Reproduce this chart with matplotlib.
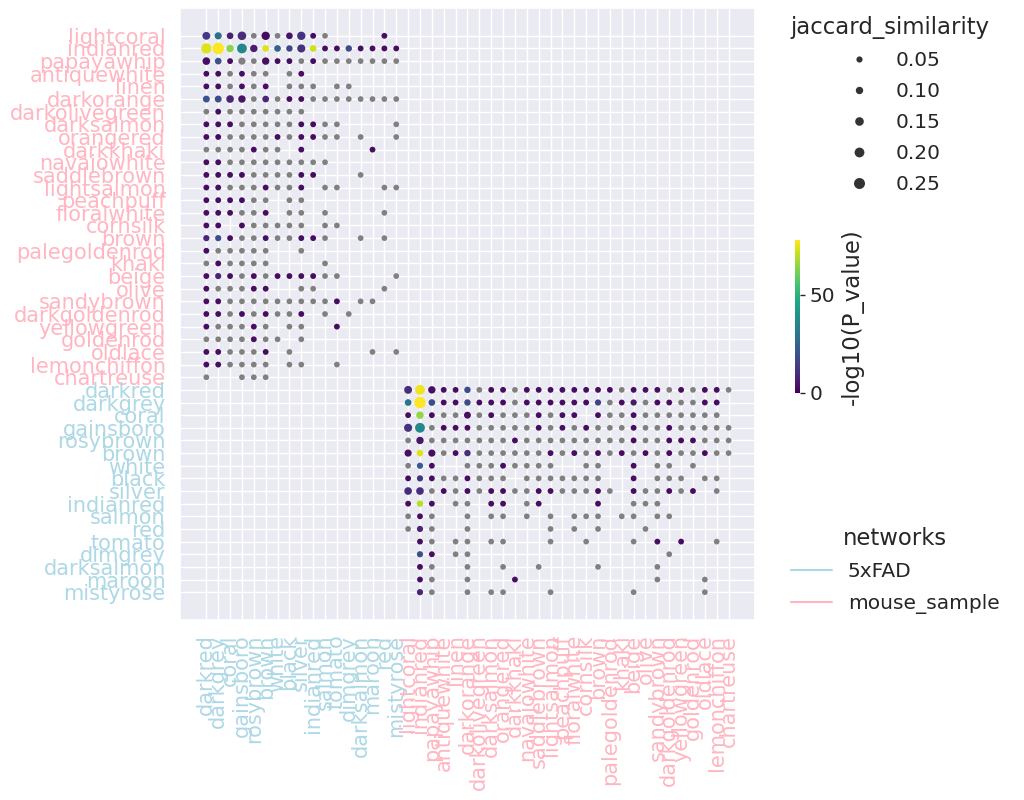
import numpy as np
import matplotlib.pyplot as plt
import seaborn as sns
from matplotlib.lines import Line2D

# modules of the two networks, in the order they show up on the axes
ms_modules = ["lightcoral", "indianred", "papayawhip", "antiquewhite", "linen",
              "darkorange", "darkolivegreen", "darksalmon", "orangered", "darkkhaki",
              "navajowhite", "saddlebrown", "lightsalmon", "peachpuff", "floralwhite",
              "cornsilk", "brown", "palegoldenrod", "khaki", "beige", "olive",
              "sandybrown", "darkgoldenrod", "yellowgreen", "goldenrod", "oldlace",
              "lemonchiffon", "chartreuse"]
fx_modules_x = ["darkred", "darkgrey", "coral", "gainsboro", "rosybrown", "brown",
                "white", "black", "silver", "indianred", "salmon", "tomato", "dimgrey",
                "darksalmon", "maroon", "red", "mistyrose"]
fx_modules_y = ["darkred", "darkgrey", "coral", "gainsboro", "rosybrown", "brown",
                "white", "black", "silver", "indianred", "salmon", "red", "tomato",
                "dimgrey", "darksalmon", "maroon", "mistyrose"]

# one char per cell: '.' no overlap, 'o' not significant, 'x' significant
ms_vs_fx = [  # rows ms_modules, cols fx_modules_x
    "xxxxoxoxxxo....x.",
    "xxxxxxxxxxxxxxxxx",
    "xxxooxxxoxooooooo",
    "xxoxoo.ox........",
    "xxoxox.ooo.oo....",
    "xxxxoxoxxoooooooo",
    "oxooooooo........",
    "xxxoooooxxoo....o",
    "xxooooxoxxoo.o..o",
    "ooooxoo.x.....x..",
    "xxooooooooo......",
    "xxxxooooxx...o...",
    "xxoooxoox.oo...oo",
    "xxxxoo.oo........",
    "xxxoox.oo.o....o.",
    "xx.xooooo.oo.....",
    "xxxooxooxxo..o.o.",
    "xooooo..o........",
    "oxoooo....o......",
    "xxxoxoxxxxoo....o",
    "xoooxx..oo.....o.",
    "xxooooooooox.oo..",
    "xxoxoxoox.o.o....",
    "xoooxo.oo..x.....",
    "ooooxoo.o........",
    "xxooox.o......o.o",
    "xxoooo.oo..o.....",
    "o..ooo...........",
]
fx_vs_ms = [  # rows fx_modules_y, cols ms_modules
    "xxxxxxoxxoxxxxxxxxoxxxoxoxxo",
    "xxxxxxxxxoxxxxxxxoxxoxxooxx.",
    "xxxooxoxoooxoxx.xooxooooooo.",
    "xxoxxxoooooxoxoxoooxooxooooo",
    "oxoooooooxoooooooooxooxxxooo",
    "xxxoxxooooooxoxoxoxoxoxooxoo",
    "oxx..oooxoooo..oo..x.oo.o...",
    "xxxooxooo.ooooooo..x.ooo.oo.",
    "xxoxoxoxxooxxoooxo.xooxox.o.",
    "xxx.oo.xx.ox....x..ooo......",
    "oxo..o.oo.o.o.ooo.oo.oo.....",
    "oxo..o......o.o.o...o.......",
    ".xo.oo.oo...o..o...o.x.x..o.",
    ".xx.oo................o.....",
    ".xo..o..o..o....o....o......",
    ".xo..o...x...........o...o..",
    ".xo..o.oo...o......o.....o..",
]

# pairs read one by one: (-log10 p, jaccard)
ms_vs_fx_strong = {
    ("lightcoral", "darkred"): (13, 0.12), ("lightcoral", "darkgrey"): (28, 0.09),
    ("lightcoral", "coral"): (7, 0.07), ("lightcoral", "gainsboro"): (10, 0.15),
    ("lightcoral", "brown"): (2, 0.14), ("lightcoral", "black"): (4, 0.07),
    ("lightcoral", "silver"): (11, 0.14),
    ("indianred", "darkred"): (74, 0.22), ("indianred", "darkgrey"): (78, 0.27),
    ("indianred", "coral"): (64, 0.10), ("indianred", "gainsboro"): (36, 0.20),
    ("indianred", "rosybrown"): (6, 0.10), ("indianred", "brown"): (74, 0.07),
    ("indianred", "white"): (25, 0.07), ("indianred", "black"): (16, 0.06),
    ("indianred", "silver"): (11, 0.13), ("indianred", "indianred"): (72, 0.07),
    ("indianred", "dimgrey"): (18, 0.06),
    ("papayawhip", "darkred"): (3, 0.11), ("papayawhip", "darkgrey"): (20, 0.07),
    ("papayawhip", "gainsboro"): (0.8, 0.09), ("papayawhip", "brown"): (3, 0.10),
    ("darkorange", "darkred"): (20, 0.08), ("darkorange", "darkgrey"): (18, 0.08),
    ("darkorange", "coral"): (8, 0.11), ("darkorange", "gainsboro"): (4, 0.10),
    ("darkorange", "brown"): (8, 0.07),
    ("brown", "darkred"): (8, 0.05), ("brown", "darkgrey"): (18, 0.05),
    ("beige", "darkgrey"): (8, 0.05),
}
fx_vs_ms_strong = {
    ("darkred", "lightcoral"): (10, 0.12), ("darkred", "indianred"): (76, 0.20),
    ("darkred", "papayawhip"): (3, 0.10), ("darkred", "darkorange"): (18, 0.06),
    ("darkgrey", "lightcoral"): (30, 0.07), ("darkgrey", "indianred"): (78, 0.27),
    ("darkgrey", "papayawhip"): (18, 0.07), ("darkgrey", "darkorange"): (18, 0.06),
    ("darkgrey", "brown"): (15, 0.05), ("darkgrey", "beige"): (5, 0.05),
    ("coral", "indianred"): (65, 0.10), ("coral", "darkorange"): (3, 0.08),
    ("gainsboro", "lightcoral"): (12, 0.13), ("gainsboro", "indianred"): (36, 0.20),
    ("rosybrown", "indianred"): (5, 0.10),
    ("brown", "lightcoral"): (3, 0.09), ("brown", "indianred"): (74, 0.07),
    ("brown", "papayawhip"): (3, 0.09), ("brown", "darkorange"): (10, 0.06),
    ("white", "indianred"): (22, 0.05), ("black", "indianred"): (12, 0.05),
    ("silver", "lightcoral"): (10, 0.11), ("silver", "indianred"): (10, 0.11),
    ("indianred", "indianred"): (70, 0.06), ("red", "indianred"): (8, 0.05),
    ("dimgrey", "indianred"): (18, 0.05), ("mistyrose", "indianred"): (8, 0.05),
}
sig_default = (2.5, 0.035)
ns_default = (0.6, 0.03)

size_legend = [0.05, 0.10, 0.15, 0.20, 0.25]
net_names = ["5xFAD", "mouse_sample"]
net_colors = ["lightblue", "lightpink"]

xs, ys, logp, jac = [], [], [], []


def add_block(grid, strong, row_names, col_names, row0, col0):
    for r, line in enumerate(grid):
        for c, ch in enumerate(line):
            if ch == ".":
                continue
            p, j = strong.get((row_names[r], col_names[c]),
                              sig_default if ch == "x" else ns_default)
            xs.append(col0 + c)
            ys.append(row0 + r)
            logp.append(p)
            jac.append(j)


add_block(ms_vs_fx, ms_vs_fx_strong, ms_modules, fx_modules_x, 0, 0)
add_block(fx_vs_ms, fx_vs_ms_strong, fx_modules_y, ms_modules, len(ms_modules), len(fx_modules_x))
xs, ys, logp, jac = map(np.array, (xs, ys, logp, jac))


def dot_size(j):
    d = (5.0 + 24 * np.asarray(j)) * 0.72  # px -> pt
    return d ** 2


sns.set_theme(style="darkgrid")
fig = plt.figure(figsize=(10.24, 8), dpi=100)
ax = fig.add_axes([0.176, 0.225, 0.561, 0.765])

sig = logp >= 1.3
ax.scatter(xs[~sig], ys[~sig], s=dot_size(jac[~sig]), color="grey", linewidths=0, zorder=2)
sc = ax.scatter(xs[sig], ys[sig], s=dot_size(jac[sig]), c=logp[sig], cmap="viridis",
                vmin=0, vmax=78, linewidths=0, zorder=3)

x_labels = fx_modules_x + ms_modules
y_labels = ms_modules + fx_modules_y
x_cols = [net_colors[0]] * len(fx_modules_x) + [net_colors[1]] * len(ms_modules)
y_cols = [net_colors[1]] * len(ms_modules) + [net_colors[0]] * len(fx_modules_y)
ax.set_xticks(range(len(x_labels)))
ax.set_xticklabels(x_labels, rotation=90, fontsize=15)
ax.set_yticks(range(len(y_labels)))
ax.set_yticklabels(y_labels, fontsize=15)
for t, col in zip(ax.get_xticklabels(), x_cols):
    t.set_color(col)
for t, col in zip(ax.get_yticklabels(), y_cols):
    t.set_color(col)
ax.tick_params(length=0, pad=10.5)
ax.margins(0.05)
ax.invert_yaxis()

# colorbar
cax = fig.add_axes([0.776, 0.509, 0.0055, 0.191])
cb = fig.colorbar(sc, cax=cax)
cb.set_ticks([0, 50])
cb.outline.set_visible(False)
cb.set_label("-log10(P_value)", fontsize=16.4)
cax.tick_params(labelsize=14.5, length=3.5, width=1, color="0.15", right=True)

# size legend
size_handles = [Line2D([], [], ls="", marker="o", color="0.2",
                       markersize=np.sqrt(dot_size(v)), markeredgewidth=0) for v in size_legend]
fig.legend(size_handles, ["%.2f" % v for v in size_legend], title="jaccard_similarity",
           loc="upper left", bbox_to_anchor=(0.754, 1.003), frameon=False,
           fontsize=14.5, title_fontsize=16.4, labelspacing=0.6)

# network legend
net_handles = [Line2D([], [], color=c, lw=1.5) for c in net_colors]
fig.legend(net_handles, net_names, title="networks", loc="upper left",
           bbox_to_anchor=(0.755, 0.364), frameon=False, fontsize=14.5, title_fontsize=16.4,
           labelspacing=0.62)

fig.savefig("out.png", dpi=100)
